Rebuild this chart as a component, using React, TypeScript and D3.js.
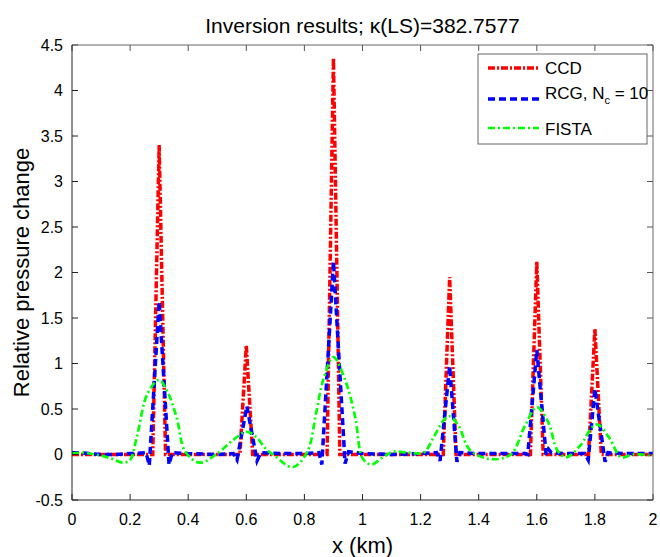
import React, { useEffect, useRef } from "react"
import * as d3 from "d3"

// x positions in km, relative pressure change values
const ccdPoints: [number, number][] = [
  [0, 0], [0.278, 0], [0.3, 3.4], [0.322, 0],
  [0.578, 0], [0.6, 1.2], [0.622, 0],
  [0.878, 0], [0.9, 4.36], [0.922, 0],
  [1.278, 0], [1.3, 1.95], [1.322, 0],
  [1.578, 0], [1.6, 2.12], [1.622, 0],
  [1.778, 0], [1.8, 1.38], [1.822, 0], [2, 0],
]

const rcgPoints: [number, number][] = [
  [0, 0.02], [0.03, 0.02], [0.06, 0.01], [0.1, 0], [0.15, 0], [0.2, 0.01], [0.255, 0.02],
  [0.266, -0.12], [0.3, 1.68], [0.334, -0.11], [0.345, 0.02], [0.4, 0.01], [0.5, 0], [0.555, 0.01],
  [0.568, -0.06], [0.602, 0.53], [0.637, -0.07], [0.65, 0.02], [0.72, 0.01], [0.8, 0.01], [0.85, 0.02],
  [0.86, -0.11], [0.9, 2.12], [0.94, -0.1], [0.952, 0.03], [1.0, 0.01], [1.1, 0], [1.2, 0.01], [1.255, 0.02],
  [1.267, -0.07], [1.3, 0.97], [1.325, -0.08], [1.335, 0.02], [1.4, 0.01], [1.5, 0.01], [1.56, 0.01],
  [1.569, 0], [1.6, 1.15], [1.632, 0], [1.64, 0.06], [1.65, 0.02], [1.7, 0.01], [1.765, 0.01],
  [1.777, -0.06], [1.8, 0.72], [1.835, -0.08], [1.845, 0.02], [1.9, 0.01], [2, 0.01],
]

const fistaPoints: [number, number][] = [
  [0, 0.01], [0.04, 0.02], [0.08, 0], [0.11, -0.02], [0.14, -0.05], [0.175, -0.09], [0.2, -0.06],
  [0.223, 0.19], [0.26, 0.67], [0.3, 0.82], [0.33, 0.68], [0.36, 0.41], [0.39, 0.03], [0.44, -0.09],
  [0.5, 0.01], [0.555, 0.16], [0.6, 0.25], [0.635, 0.19], [0.665, 0.07], [0.7, -0.02], [0.76, -0.14],
  [0.81, 0.03], [0.84, 0.45], [0.865, 0.82], [0.9, 1.07], [0.94, 0.82], [0.975, 0.41], [1.0, -0.04],
  [1.03, -0.11], [1.07, -0.03], [1.105, 0.03], [1.16, 0.02], [1.21, 0.02], [1.245, 0.19], [1.28, 0.38],
  [1.3, 0.42], [1.33, 0.32], [1.37, 0.05], [1.44, -0.05], [1.51, 0], [1.56, 0.32], [1.6, 0.52],
  [1.64, 0.35], [1.67, 0.05], [1.7, -0.03], [1.75, 0.1], [1.79, 0.3], [1.81, 0.33], [1.85, 0.18],
  [1.89, -0.03], [1.93, 0], [2, -0.01],
]

const xTicks = [0, 0.2, 0.4, 0.6, 0.8, 1, 1.2, 1.4, 1.6, 1.8, 2]
const yTicks = [-0.5, 0, 0.5, 1, 1.5, 2, 2.5, 3, 3.5, 4, 4.5]

const seriesNames = ["CCD", "RCG", "FISTA"]

const font = "'Liberation Sans', Arial, Helvetica, sans-serif"

export default function App() {
  const ref = useRef<SVGSVGElement>(null)

  useEffect(() => {
    const width = 660
    const height = 557
    const margin = { top: 45, right: 7, bottom: 57, left: 72 }
    const w = width - margin.left - margin.right
    const h = height - margin.top - margin.bottom

    const svg = d3.select(ref.current)
    svg.selectAll("*").remove()

    const x = d3.scaleLinear().domain([0, 2]).range([0, w])
    const y = d3.scaleLinear().domain([-0.5, 4.5]).range([h, 0])

    const g = svg.append("g").attr("transform", "translate(" + margin.left + "," + margin.top + ")")

    g.append("rect").attr("width", w).attr("height", h).attr("fill", "white")

    const clip = svg.append("clipPath").attr("id", "plotclip")
    clip.append("rect").attr("width", w).attr("height", h)

    const line = d3
      .line<[number, number]>()
      .x(d => x(d[0]))
      .y(d => y(d[1]))

    const smooth = d3
      .line<[number, number]>()
      .x(d => x(d[0]))
      .y(d => y(d[1]))
      .curve(d3.curveCatmullRom)

    const plot = g.append("g").attr("clip-path", "url(#plotclip)")

    // draw order: CCD, RCG, FISTA
    plot
      .append("path")
      .attr("class", seriesNames[0])
      .attr("d", line(ccdPoints))
      .attr("fill", "none")
      .attr("stroke", "#ff0000")
      .attr("stroke-width", 3.5)
      .attr("stroke-dasharray", "7,2,2,2")

    plot
      .append("path")
      .attr("class", seriesNames[1])
      .attr("d", line(rcgPoints))
      .attr("fill", "none")
      .attr("stroke", "#0000ff")
      .attr("stroke-width", 3.5)
      .attr("stroke-dasharray", "7,4")

    plot
      .append("path")
      .attr("class", seriesNames[2])
      .attr("d", smooth(fistaPoints))
      .attr("fill", "none")
      .attr("stroke", "#00ff00")
      .attr("stroke-width", 2.7)
      .attr("stroke-dasharray", "7,3,2,3")

    // ticks, inward on all four sides
    const tickLen = 6
    xTicks.forEach(t => {
      g.append("line").attr("x1", x(t)).attr("x2", x(t)).attr("y1", h).attr("y2", h - tickLen).attr("stroke", "#222")
      g.append("line").attr("x1", x(t)).attr("x2", x(t)).attr("y1", 0).attr("y2", tickLen).attr("stroke", "#555")
      g.append("text")
        .attr("x", x(t))
        .attr("y", h + 25)
        .attr("text-anchor", "middle")
        .style("font-family", font)
        .style("font-size", "16px")
        .text(String(t))
    })
    yTicks.forEach(t => {
      g.append("line").attr("x1", 0).attr("x2", tickLen).attr("y1", y(t)).attr("y2", y(t)).attr("stroke", "#222")
      g.append("line").attr("x1", w).attr("x2", w - tickLen).attr("y1", y(t)).attr("y2", y(t)).attr("stroke", "#555")
      g.append("text")
        .attr("x", -9)
        .attr("y", y(t) + 5.5)
        .attr("text-anchor", "end")
        .style("font-family", font)
        .style("font-size", "16px")
        .text(String(t))
    })

    // box
    g.append("line").attr("x1", 0).attr("x2", w).attr("y1", 0).attr("y2", 0).attr("stroke", "#666")
    g.append("line").attr("x1", w).attr("x2", w).attr("y1", 0).attr("y2", h).attr("stroke", "#666")
    g.append("line").attr("x1", 0).attr("x2", 0).attr("y1", 0).attr("y2", h).attr("stroke", "#222")
    g.append("line").attr("x1", 0).attr("x2", w).attr("y1", h).attr("y2", h).attr("stroke", "#222")

    // labels
    svg
      .append("text")
      .attr("x", margin.left + w / 2)
      .attr("y", 33)
      .attr("text-anchor", "middle")
      .style("font-family", font)
      .style("font-size", "21px")
      .text("Inversion results; κ(LS)=382.7577")

    svg
      .append("text")
      .attr("x", margin.left + w / 2)
      .attr("y", 553)
      .attr("text-anchor", "middle")
      .style("font-family", font)
      .style("font-size", "22px")
      .text("x (km)")

    svg
      .append("text")
      .attr("transform", "translate(29," + (margin.top + h / 2) + ") rotate(-90)")
      .attr("text-anchor", "middle")
      .style("font-family", font)
      .style("font-size", "22px")
      .text("Relative pressure change")

    // legend
    const lg = svg.append("g").attr("transform", "translate(478,54)")
    lg.append("rect").attr("width", 169).attr("height", 90).attr("fill", "white").attr("stroke", "#666")

    const legendItems = [
      { name: seriesNames[0], color: "#ff0000", dash: "7,2,2,2", sw: 3.5, y: 14 },
      { name: seriesNames[1], color: "#0000ff", dash: "7,4", sw: 3.5, y: 45 },
      { name: seriesNames[2], color: "#00ff00", dash: "7,3,2,3", sw: 2.7, y: 74 },
    ]
    legendItems.forEach(d => {
      lg.append("line")
        .attr("x1", 10)
        .attr("x2", 61)
        .attr("y1", d.y)
        .attr("y2", d.y)
        .attr("stroke", d.color)
        .attr("stroke-width", d.sw)
        .attr("stroke-dasharray", d.dash)
    })

    const legText = (ty: number) =>
      lg
        .append("text")
        .attr("x", 67)
        .attr("y", ty)
        .style("font-family", font)
        .style("font-size", "17px")

    legText(20).text("CCD")
    const rcgText = legText(45)
    rcgText.append("tspan").text("RCG, N")
    rcgText.append("tspan").attr("dy", 5).style("font-size", "11px").text("c")
    rcgText.append("tspan").attr("dy", -5).text(" = 10")
    legText(81).text("FISTA")
  }, [])

  return (
    <svg
      ref={ref}
      width={660}
      height={557}
      style={{ position: "absolute", left: 0, top: 0, background: "white" }}
    ></svg>
  )
}
